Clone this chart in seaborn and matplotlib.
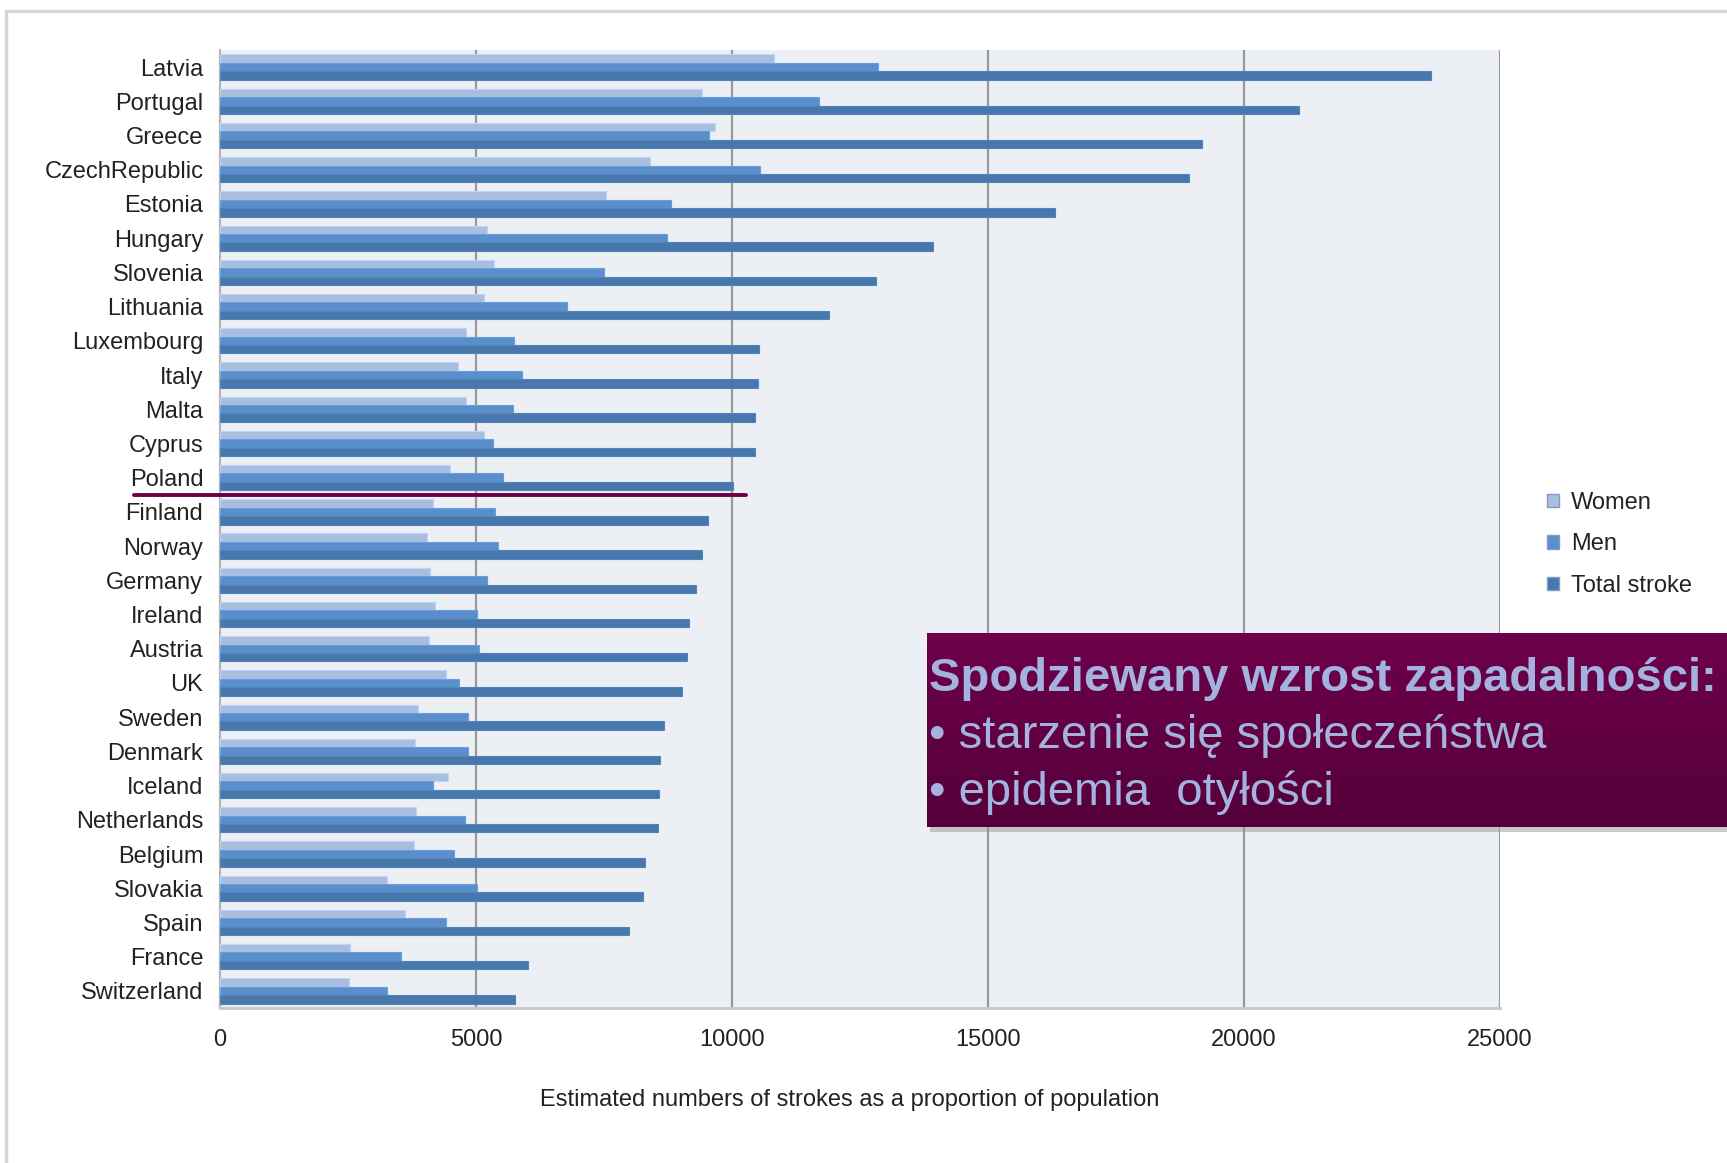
import matplotlib
matplotlib.use("Agg")
import matplotlib.pyplot as plt
import matplotlib.lines as mlines
import matplotlib.patches as mpatches
import numpy as np
import pandas as pd
import seaborn as sns

countries = ["Latvia", "Portugal", "Greece", "CzechRepublic", "Estonia", "Hungary",
             "Slovenia", "Lithuania", "Luxembourg", "Italy", "Malta", "Cyprus", "Poland",
             "Finland", "Norway", "Germany", "Ireland", "Austria", "UK", "Sweden",
             "Denmark", "Iceland", "Netherlands", "Belgium", "Slovakia", "Spain",
             "France", "Switzerland"]
women = [10820, 9420, 9660, 8390, 7530, 5210, 5360, 5160, 4800, 4650, 4800, 5160, 4500,
         4150, 4040, 4110, 4190, 4090, 4410, 3870, 3810, 4450, 3830, 3790, 3270, 3610,
         2540, 2520]
men = [12860, 11700, 9550, 10540, 8800, 8730, 7490, 6780, 5740, 5890, 5720, 5330, 5530,
       5380, 5420, 5210, 5010, 5050, 4670, 4840, 4840, 4150, 4780, 4560, 5010, 4410,
       3530, 3270]
total = [23660, 21080, 19170, 18930, 16300, 13920, 12820, 11900, 10520, 10500, 10450,
         10450, 10020, 9530, 9420, 9290, 9160, 9120, 9030, 8670, 8600, 8580, 8560, 8300,
         8260, 7980, 6020, 5760]
series = ["Women", "Men", "Total stroke"]
x_ticks = [0, 5000, 10000, 15000, 20000, 25000]
x_label = "Estimated numbers of strokes as a proportion of population"
box_title = "Spodziewany wzrost zapadalności:"
box_items = ["starzenie się społeczeństwa", "epidemia  otyłości"]

df = pd.DataFrame({
    "country": countries * 3,
    "value": women + men + total,
    "series": [series[0]] * len(countries) + [series[1]] * len(countries) + [series[2]] * len(countries),
})

palette = {"Women": "#A9BEDF", "Men": "#5B8FCB", "Total stroke": "#4877AB"}

sns.set_theme(style="white")
plt.rcParams["font.family"] = ["Liberation Sans", "DejaVu Sans"]

fig = plt.figure(figsize=(17.27, 11.63), dpi=100)
ax = fig.add_axes([0.1274, 0.1333, 0.7412, 0.8237])
ax.set_facecolor("#ECEFF4")

sns.barplot(data=df, y="country", x="value", hue="series", hue_order=series,
            order=countries, palette=palette, orient="h", width=0.74,
            saturation=1, ax=ax, legend=False, zorder=3)
for bar in ax.patches:
    fc = bar.get_facecolor()
    bar.set_edgecolor(tuple(min(1, c * 1.12) for c in fc[:3]))
    bar.set_linewidth(0.8)

ax.set_xlim(0, 25000)
ax.set_ylim(len(countries) - 0.5, -0.5)
ax.set_xticks(x_ticks)
ax.set_xticklabels([str(t) for t in x_ticks], fontsize=17, color="#222222")
ax.tick_params(axis="x", length=0, pad=15)
ax.set_yticks(range(len(countries)))
ax.set_yticklabels(countries, fontsize=17, color="#222222")
ax.tick_params(axis="y", length=0, pad=12)
ax.set_yticks(np.arange(-0.5, len(countries)), minor=True)
ax.tick_params(axis="y", which="minor", length=5, width=1, color="#AAAAAA", direction="out")
ax.set_ylabel("")
ax.set_xlabel(x_label, fontsize=17, color="#222222", labelpad=28)
ax.xaxis.set_label_coords(0.492, -0.085)

for t in x_ticks[1:]:
    ax.axvline(t, color="#999999", lw=1.6, zorder=1)
ax.spines["top"].set_visible(False)
ax.spines["right"].set_visible(False)
ax.spines["left"].set_color("#B5B5B5")
ax.spines["left"].set_linewidth(1.6)
ax.spines["bottom"].set_color("#C8C8C8")
ax.spines["bottom"].set_linewidth(2)

# marker line under Poland
ax.plot([-1680, 10280], [12.5, 12.5], color="#6B0047", lw=2.8, clip_on=False, zorder=5)

# legend
handles = [mpatches.Patch(facecolor=palette[s], edgecolor="#7F9CC5", label=s) for s in series]
fig.legend(handles=handles, loc="center left", bbox_to_anchor=(0.8835, 0.532), frameon=False,
           fontsize=17, handlelength=0.5, handleheight=0.5, handletextpad=0.5,
           labelspacing=0.82, labelcolor="#222222")

# slide frame
fig.add_artist(mlines.Line2D([0.0035, 0.0035], [0, 0.9905], color="#D6D6D6", lw=2.5))
fig.add_artist(mlines.Line2D([0.0035, 1], [0.9905, 0.9905], color="#D6D6D6", lw=2.5))

# annotation box with vertical gradient
bx0, by0, bw, bh = 927 / 1727, 1 - 827 / 1163, 1 - 927 / 1727, (827 - 633) / 1163
shadow = mpatches.Rectangle((bx0 + 0.002, by0 - 0.004), bw, bh, transform=fig.transFigure,
                            facecolor="#999999", alpha=0.5, edgecolor="none", zorder=9)
fig.add_artist(shadow)
grad_ax = fig.add_axes([bx0, by0, bw, bh], zorder=10)
top_c = np.array([0x6E, 0x00, 0x4B]) / 255
bot_c = np.array([0x55, 0x00, 0x3A]) / 255
tvals = np.linspace(0, 1, 256)[:, None]
img = top_c[None, None, :] * (1 - tvals[..., None]) + bot_c[None, None, :] * tvals[..., None]
grad_ax.imshow(np.repeat(img, 2, axis=1), aspect="auto", extent=[0, 1, 0, 1])
grad_ax.set_axis_off()
txt_c = "#A3B2DE"
grad_ax.text(0.002, 0.765, box_title, fontsize=34, fontweight="bold", color=txt_c,
             va="center", ha="left", transform=grad_ax.transAxes)
for i, item in enumerate(box_items):
    grad_ax.text(0.002, 0.47 - i * 0.295, "• " + item, fontsize=34, color=txt_c,
                 va="center", ha="left", transform=grad_ax.transAxes)

fig.savefig("out.png", dpi=100, facecolor="white")
